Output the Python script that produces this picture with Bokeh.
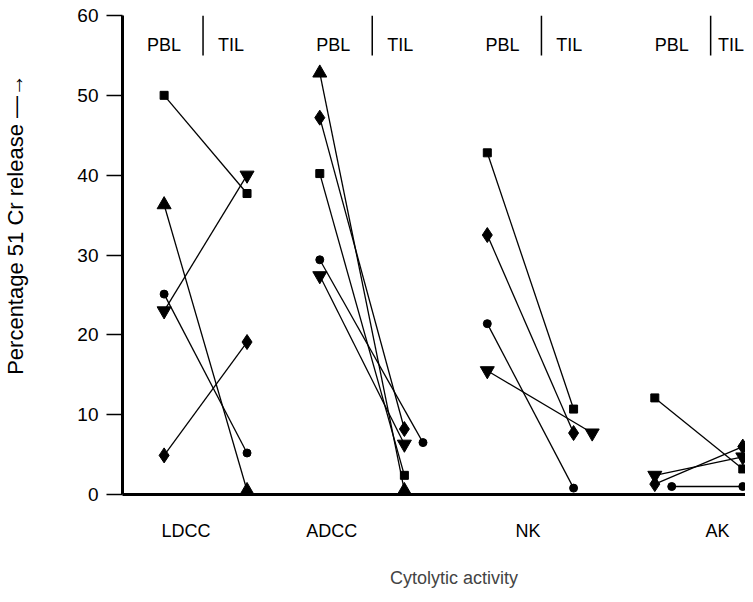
from bokeh.plotting import figure
from bokeh.models import Range1d, FixedTicker
from bokeh.core.properties import value
from bokeh.embed import file_html
from bokeh.resources import INLINE

# ---- data (percentage 51Cr release), one entry per cytolytic activity ----
categories = ["LDCC", "ADCC", "NK", "AK"]
pbl_square   = [50.0, 40.2, 42.8, 12.1]
til_square   = [37.7, 2.4, 10.7, 3.2]
pbl_triangle = [36.3, 52.8, None, None]
til_triangle = [0.5, 0.5, None, None]
pbl_circle   = [25.1, 29.4, 21.4, 1.0]
til_circle   = [5.2, 6.5, 0.8, 1.0]
pbl_invtri   = [23.0, 27.4, 15.5, 2.4]
til_invtri   = [40.0, 6.3, 7.7, 4.7]
pbl_diamond  = [4.9, 47.2, 32.5, 1.3]
til_diamond  = [19.1, 8.2, 7.7, 6.0]
yticks = [0, 10, 20, 30, 40, 50, 60]

# ---- layout / style ----
FONT = "Liberation Sans"
NBSP = "\u00a0"
PBL_OFF = [-0.23, -0.31, -0.32, -0.33]      # column offsets from each group's divider
TIL_OFF = [0.26, 0.19, 0.19, 0.19]
LABEL_OFF = [-0.10, -0.24, -0.08, 0.04]     # category label offsets
PBL_HDR = [-0.23, -0.23, -0.23, -0.23]
TIL_HDR = [0.165, 0.165, 0.165, 0.12]
series = [
    # marker, size, pbl, til, pbl dodge, til dodge
    ("square", 8, pbl_square, til_square, [0, 0, 0, 0], [0, 0, 0, 0]),
    ("triangle", 14, pbl_triangle, til_triangle, [0, 0, 0, 0], [0, 0, 0, 0]),
    ("circle", 8, pbl_circle, til_circle, [0, 0, 0, 0.10], [0, 0.11, 0, 0]),
    ("inverted_triangle", 14, pbl_invtri, til_invtri, [0, 0, 0, 0], [0, 0, 0.11, 0]),
    ("diamond", 15, pbl_diamond, til_diamond, [0, 0, 0, 0], [0, 0, 0, 0]),
]

p = figure(width=745, height=594, output_backend="svg", toolbar_location=None,
           x_range=Range1d(-0.476, 3.206), y_range=Range1d(0, 60),
           min_border_left=119, min_border_right=0, min_border_top=15, min_border_bottom=100)
p.outline_line_color = None
p.xgrid.visible = False
p.ygrid.visible = False
p.background_fill_color = "white"

for marker, size, pbl, til, pd, td in series:
    xs, ys, mx, my = [], [], [], []
    for i in range(len(categories)):
        if pbl[i] is None:
            continue
        x0 = i + PBL_OFF[i] + pd[i]
        x1 = i + TIL_OFF[i] + td[i]
        xs.append([x0, x1]); ys.append([pbl[i], til[i]])
        mx += [x0, x1]; my += [pbl[i], til[i]]
    p.multi_line(xs, ys, line_color="black", line_width=1.3)
    p.scatter(mx, my, marker=marker, size=size,
              fill_color="black", line_color="black")

# PBL | TIL headers
idx = list(range(len(categories)))
p.segment(x0=idx, y0=[55.0] * 4, x1=idx, y1=[60.0] * 4, line_color="black", line_width=1.5)
p.text(x=[i + PBL_HDR[i] for i in idx], y=[56.3] * 4, text=["PBL"] * 4,
       text_align="center", text_baseline="middle",
       text_font=value(FONT), text_font_size="18px", text_color="black")
p.text(x=[i + TIL_HDR[i] for i in idx], y=[56.3] * 4, text=["TIL"] * 4,
       text_align="center", text_baseline="middle",
       text_font=value(FONT), text_font_size="18px", text_color="black")

# axes
xa = p.xaxis[0]
ticks = [i + LABEL_OFF[i] for i in idx]
xa.ticker = FixedTicker(ticks=ticks)
xa.major_label_overrides = {t: c for t, c in zip(ticks, categories)}
xa.major_tick_out = 0
xa.major_tick_in = 0
xa.minor_tick_out = 0
xa.minor_tick_in = 0
xa.axis_line_width = 3
xa.major_label_standoff = 26
xa.major_label_text_font = FONT
xa.major_label_text_font_size = "18px"
xa.major_label_text_color = "black"
xa.axis_label = NBSP * 8 + "Cytolytic activity"
xa.axis_label_text_font = FONT
xa.axis_label_text_font_size = "18px"
xa.axis_label_text_font_style = "normal"
xa.axis_label_standoff = 24

ya = p.yaxis[0]
ya.ticker = FixedTicker(ticks=yticks)
ya.minor_tick_out = 0
ya.minor_tick_in = 0
ya.major_tick_in = 0
ya.major_tick_out = 16
ya.major_tick_line_width = 1.5
ya.axis_line_width = 3
ya.major_label_standoff = 8
ya.major_label_text_font = FONT
ya.major_label_text_font_size = "19px"
ya.major_label_text_color = "black"
ya.axis_label = NBSP * 10 + "Percentage 51 Cr release \u2014\u2192"
ya.axis_label_text_font = FONT
ya.axis_label_text_font_size = "22px"
ya.axis_label_text_font_style = "normal"
ya.axis_label_text_color = "black"
ya.axis_label_standoff = 46

open("out.html", "w").write(file_html(p, INLINE))
